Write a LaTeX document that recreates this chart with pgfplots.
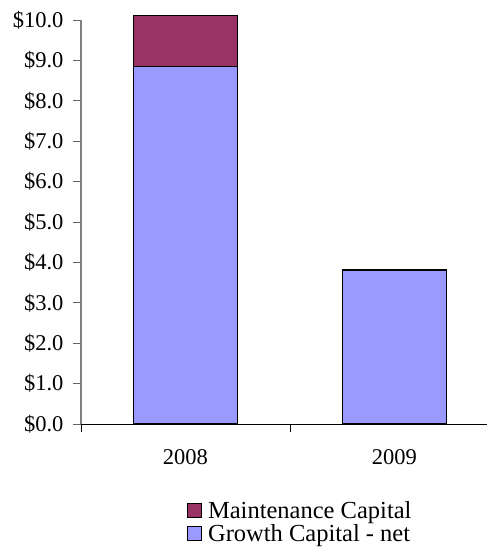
\documentclass[border=0pt]{standalone}
\usepackage{fontspec}
\setmainfont{Liberation Serif}
\usepackage{pgfplots}
\pgfplotsset{compat=1.18}
\definecolor{maint}{HTML}{993366}
\definecolor{growth}{HTML}{9999FF}

\begin{document}
\begin{tikzpicture}
\useasboundingbox (0,0) rectangle (487pt,548pt);
\begin{axis}[
  at={(81pt,124pt)}, anchor=south west,
  scale only axis, width=406pt, height=404pt,
  ybar stacked, bar width=0.5,
  xmin=-0.5, xmax=1.443, ymin=0, ymax=10,
  clip=false,
  axis x line*=bottom, axis y line*=left,
  x axis line style={black, -, line width=0.8pt},
  y axis line style={gray, -, line width=1.2pt},
  ytick={0,1,...,10},
  yticklabels={\$0.0,\$1.0,\$2.0,\$3.0,\$4.0,\$5.0,\$6.0,\$7.0,\$8.0,\$9.0,\$10.0},
  xtick={0,1}, xticklabels={2008,2009},
  minor xtick={-0.5,0.5,1.5},
  tick align=outside,
  major tick length=8pt, minor tick length=8pt,
  y tick style={gray!80!black, line width=0.8pt},
  major x tick style={draw=none},
  minor x tick style={black, line width=0.8pt},
  tick label style={font=\fontsize{22.5}{26}\selectfont},
  yticklabel style={xshift=-6pt},
  xticklabel style={yshift=-14pt},
  every axis plot post/.append style={
    legend image code/.code={\draw[#1, line width=0.8pt] (0pt,-7pt) rectangle (14pt,7pt);
      \path (17pt,0pt);}},
  reverse legend,
  legend style={at={(axis description cs:0.261,-0.2426)}, anchor=west,
    draw=none, fill=none, inner sep=0pt, row sep=2pt,
    font=\fontsize{24.5}{28}\selectfont,
    cells={anchor=west},
    nodes={inner ysep=1pt, inner xsep=3pt}},
]
\addplot[fill=growth, draw=black, line width=1pt] coordinates {(0,8.84) (1,3.79)};
\addplot[fill=maint, draw=black, line width=1pt] coordinates {(0,1.26) (1,0.04)};
\legend{Growth Capital - net, Maintenance Capital}
\end{axis}
\end{tikzpicture}
\end{document}
